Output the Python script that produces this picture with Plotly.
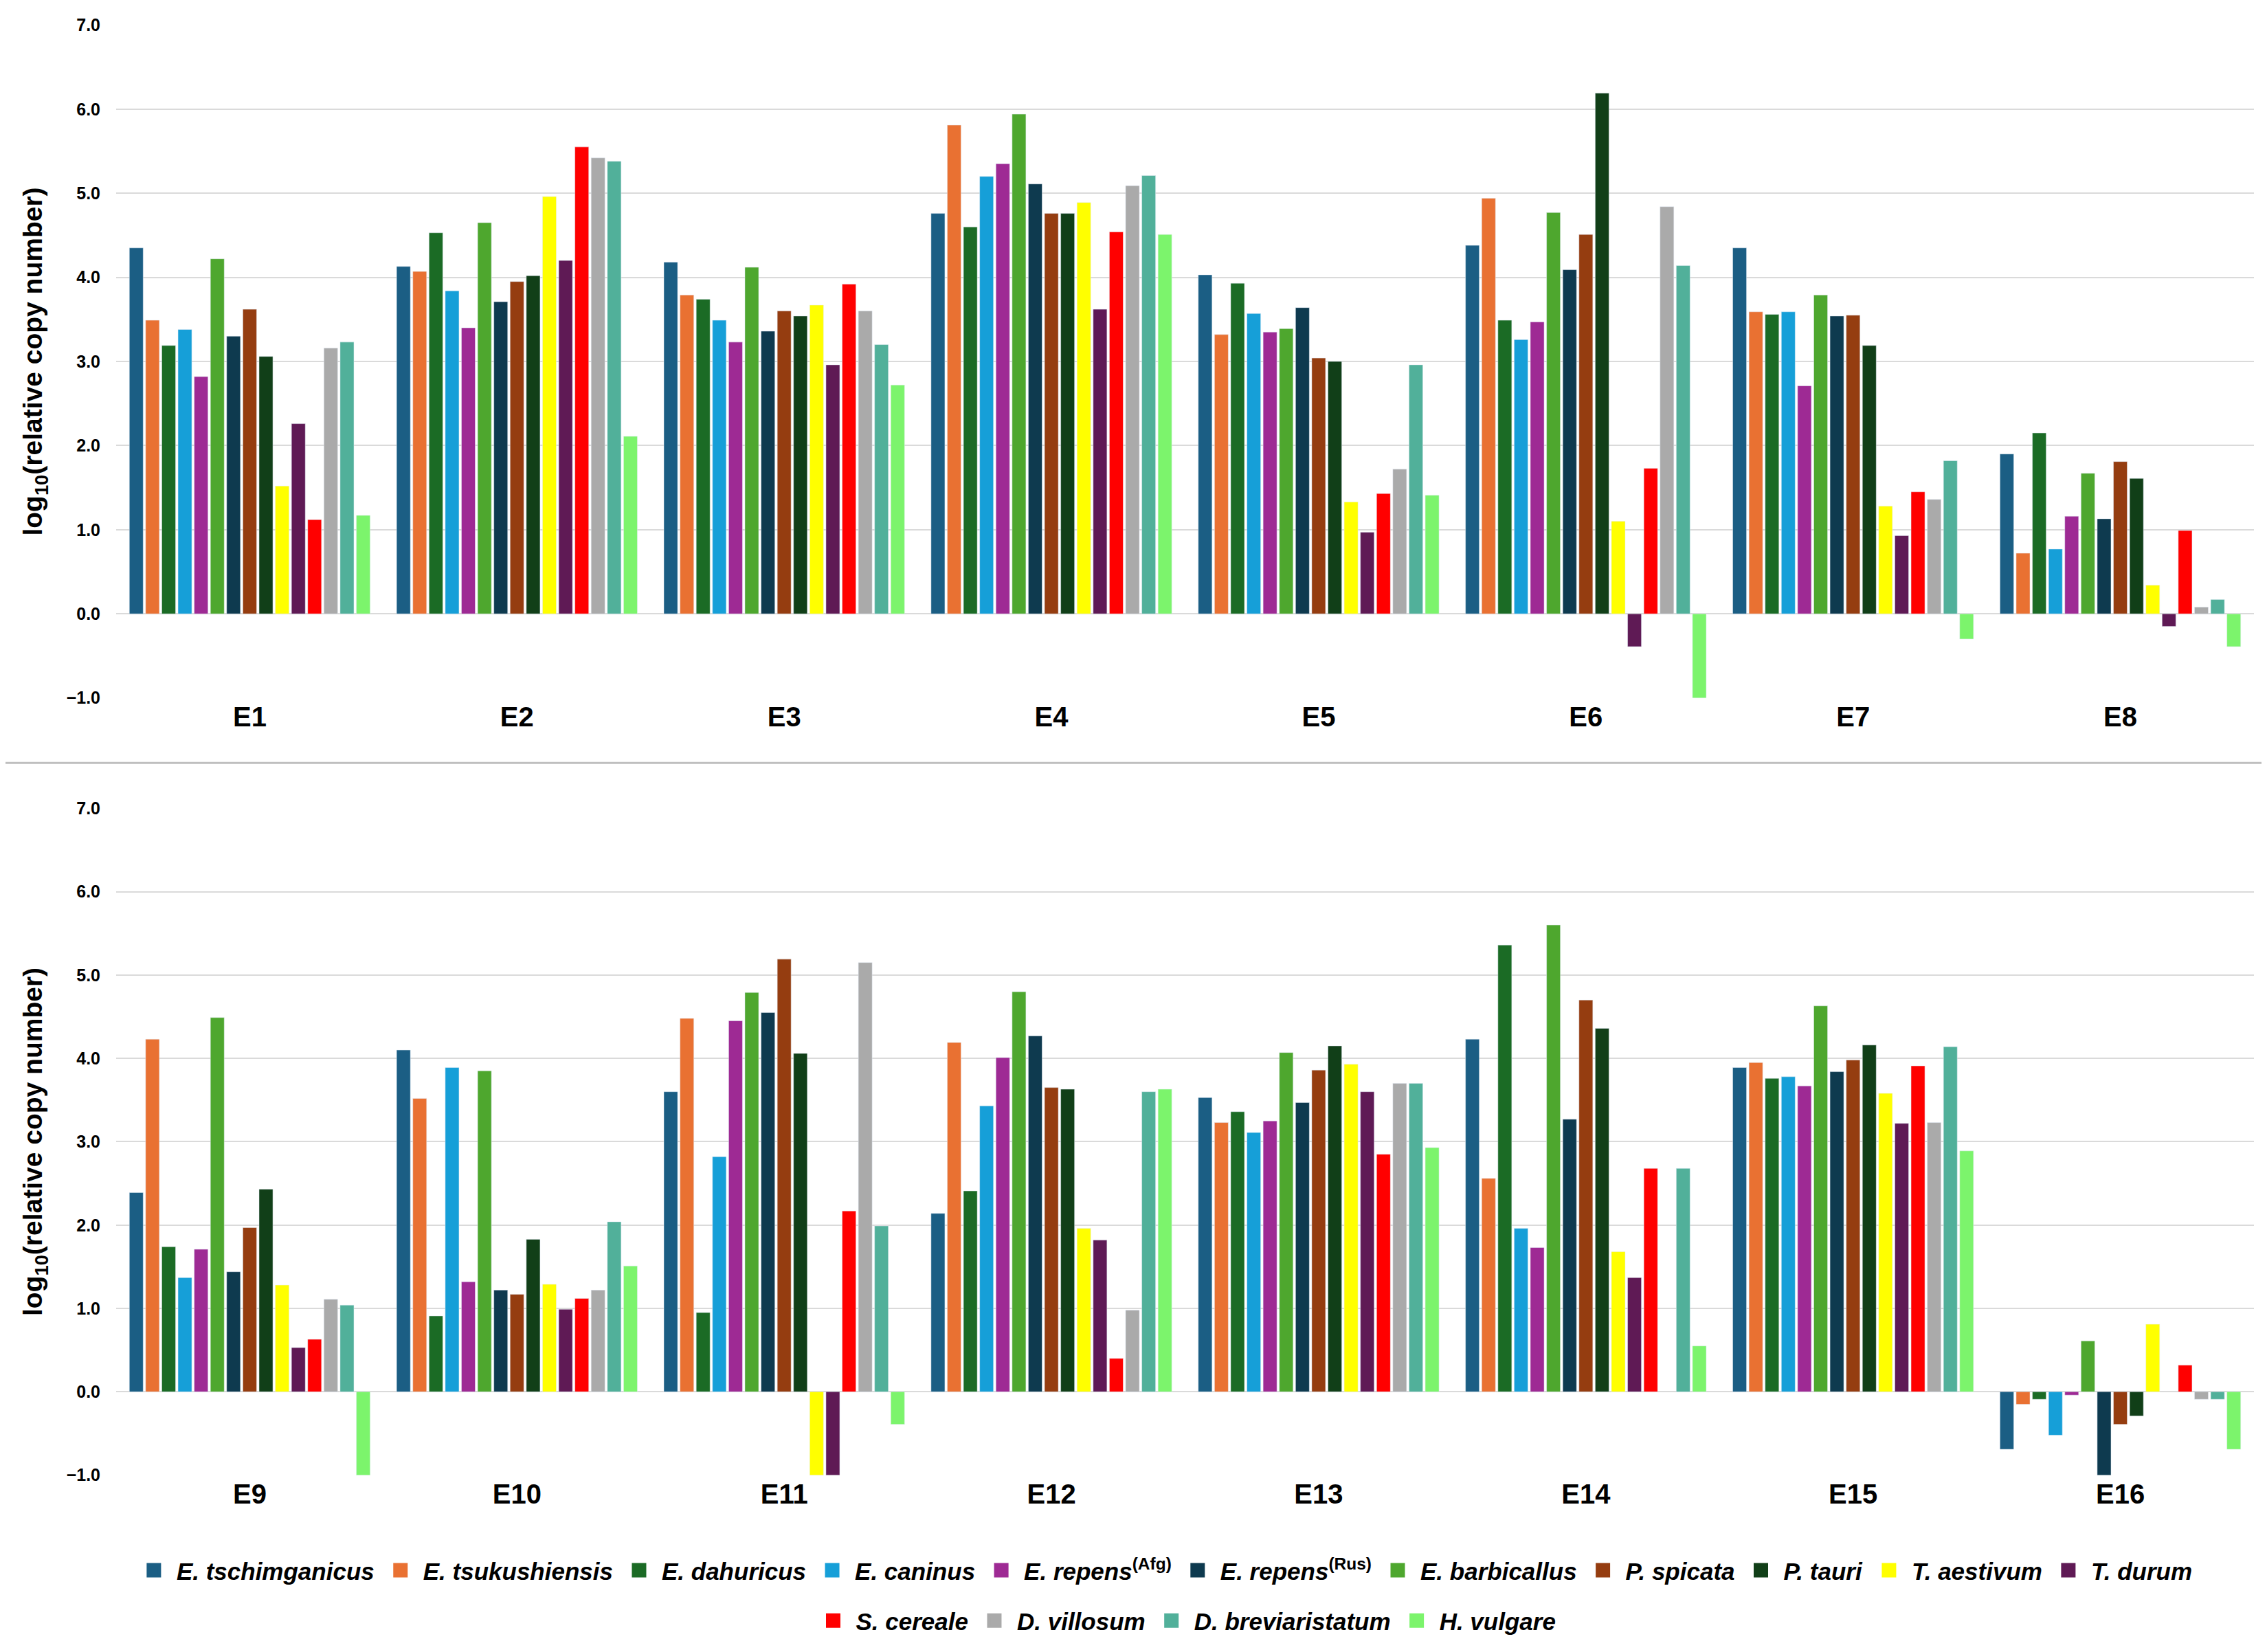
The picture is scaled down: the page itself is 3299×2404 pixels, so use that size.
import plotly.graph_objects as go
from plotly.subplots import make_subplots

# categories (two panels)
groups_top = ["E1", "E2", "E3", "E4", "E5", "E6", "E7", "E8"]
groups_bottom = ["E9", "E10", "E11", "E12", "E13", "E14", "E15", "E16"]

# log10(relative copy number), one value per group E1..E16
tschimganicus = [4.35, 4.13, 4.18, 4.76, 4.03, 4.38, 4.35, 1.90, 2.39, 4.10, 3.60, 2.14, 3.53, 4.23, 3.89, -0.69]
tsukushiensis = [3.49, 4.07, 3.79, 5.81, 3.32, 4.94, 3.59, 0.72, 4.23, 3.52, 4.48, 4.19, 3.23, 2.56, 3.95, -0.15]
dahuricus = [3.19, 4.53, 3.74, 4.60, 3.93, 3.49, 3.56, 2.15, 1.74, 0.91, 0.95, 2.41, 3.36, 5.36, 3.76, -0.09]
caninus = [3.38, 3.84, 3.49, 5.20, 3.57, 3.26, 3.59, 0.77, 1.37, 3.89, 2.82, 3.43, 3.11, 1.96, 3.78, -0.52]
repens_afg = [2.82, 3.40, 3.23, 5.35, 3.35, 3.47, 2.71, 1.16, 1.71, 1.32, 4.45, 4.01, 3.25, 1.73, 3.67, -0.04]
barbicallus = [4.22, 4.65, 4.12, 5.94, 3.39, 4.77, 3.79, 1.67, 4.49, 3.85, 4.79, 4.80, 4.07, 5.60, 4.63, 0.61]
repens_rus = [3.30, 3.71, 3.36, 5.11, 3.64, 4.09, 3.54, 1.13, 1.44, 1.22, 4.55, 4.27, 3.47, 3.27, 3.84, -1.00]
spicata = [3.62, 3.95, 3.60, 4.76, 3.04, 4.51, 3.55, 1.81, 1.97, 1.17, 5.19, 3.65, 3.86, 4.70, 3.98, -0.39]
tauri = [3.06, 4.02, 3.54, 4.76, 3.00, 6.19, 3.19, 1.61, 2.43, 1.83, 4.06, 3.63, 4.15, 4.36, 4.16, -0.29]
aestivum = [1.52, 4.96, 3.67, 4.89, 1.33, 1.10, 1.28, 0.34, 1.28, 1.29, -1.00, 1.96, 3.93, 1.68, 3.58, 0.81]
durum = [2.26, 4.20, 2.96, 3.62, 0.97, -0.39, 0.93, -0.15, 0.53, 0.99, -1.00, 1.82, 3.60, 1.37, 3.22, None]
cereale = [1.12, 5.55, 3.92, 4.54, 1.43, 1.73, 1.45, 0.99, 0.63, 1.12, 2.17, 0.40, 2.85, 2.68, 3.91, 0.32]
villosum = [3.16, 5.42, 3.60, 5.09, 1.72, 4.84, 1.36, 0.08, 1.11, 1.22, 5.15, 0.98, 3.70, None, 3.23, -0.09]
breviaristatum = [3.23, 5.38, 3.20, 5.21, 2.96, 4.14, 1.82, 0.17, 1.04, 2.04, 1.99, 3.60, 3.70, 2.68, 4.14, -0.09]
vulgare = [1.17, 2.11, 2.72, 4.51, 1.41, -1.00, -0.30, -0.39, -1.00, 1.51, -0.39, 3.63, 2.93, 0.55, 2.89, -0.69]

# (label, values, colour, legend position) in the order the bars are drawn
series = [
    ("<i>E. tschimganicus</i>", tschimganicus, "#1B5E84", 1),
    ("<i>E. tsukushiensis</i>", tsukushiensis, "#E97132", 2),
    ("<i>E. dahuricus</i>", dahuricus, "#1B6B25", 3),
    ("<i>E. caninus</i>", caninus, "#169FD8", 4),
    ("<i>E. repens</i><sup>(Afg)</sup>", repens_afg, "#9E2A94", 5),
    ("<i>E. barbicallus</i>", barbicallus, "#4EA72E", 7),
    ("<i>E. repens</i><sup>(Rus)</sup>", repens_rus, "#0E3A4F", 6),
    ("<i>P. spicata</i>", spicata, "#953D10", 8),
    ("<i>P. tauri</i>", tauri, "#113F18", 9),
    ("<i>T. aestivum</i>", aestivum, "#FFFF00", 10),
    ("<i>T. durum</i>", durum, "#5F1A55", 11),
    ("<i>S. cereale</i>", cereale, "#FF0000", 12),
    ("<i>D. villosum</i>", villosum, "#AAAAAA", 13),
    ("<i>D. breviaristatum</i>", breviaristatum, "#51B09A", 14),
    ("<i>H. vulgare</i>", vulgare, "#7CF46C", 15),
]

FONT = "Liberation Sans, Arial, sans-serif"

fig = make_subplots(rows=2, cols=1, vertical_spacing=0.08)

for name, vals, color, rank in series:
    fig.add_trace(go.Bar(x=groups_top, y=vals[:8], name=name, marker_color=color,
                         legendgroup=name, showlegend=False),
                  row=1, col=1)
    fig.add_trace(go.Bar(x=groups_bottom, y=vals[8:], name=name, marker_color=color,
                         legendgroup=name, showlegend=False),
                  row=2, col=1)
    # legend-only entry so the swatch can be bigger than plotly's bar icon
    fig.add_trace(go.Scatter(x=[None], y=[None], mode="markers", name=name,
                             marker=dict(symbol="square", size=16, color=color,
                                         line=dict(color=color, width=5)),
                             legendgroup=name, legendrank=rank,
                             legend="legend" if rank <= 11 else "legend2",
                             hoverinfo="skip"),
                  row=1, col=1)

yaxis_style = dict(range=[-1.003, 7.003], dtick=1, tickformat=".1f",
                   showgrid=True, gridcolor="#DADADA", gridwidth=2, zeroline=False,
                   ticklabelstandoff=22,
                   tickfont=dict(family=FONT, size=25, color="black", weight="bold"),
                   title=dict(text="log<sub>10</sub>(relative copy number)", standoff=22,
                              font=dict(family=FONT, size=39, color="black", weight="bold")))
xaxis_style = dict(showgrid=False, showline=False, ticks="", ticklabelstandoff=0,
                   tickfont=dict(family=FONT, size=40, color="black", weight="bold"))

legend_font = dict(family=FONT, size=35, color="black", weight="bold")

fig.update_yaxes(**yaxis_style)
fig.update_xaxes(**xaxis_style)
fig.update_layout(
    width=3299, height=2404,
    margin=dict(l=161, r=27, t=28, b=258),
    paper_bgcolor="white", plot_bgcolor="white",
    barmode="group", bargap=0.09, bargroupgap=0.15,
    yaxis=dict(domain=[0.5373, 1.0]),
    yaxis2=dict(domain=[0.0033, 0.4618]),
    legend=dict(orientation="h", x=0.49, xanchor="center", y=-0.062, yanchor="middle",
                font=legend_font, itemwidth=56, traceorder="normal"),
    legend2=dict(orientation="h", x=0.50, xanchor="center", y=-0.0966, yanchor="middle",
                 font=legend_font, itemwidth=56, traceorder="normal"),
    font=dict(family=FONT, color="black"),
)

# separator between the two panels
fig.add_shape(type="line", xref="paper", yref="paper",
              x0=-161 / 3111, x1=1 + 27 / 3111, y0=0.4928, y1=0.4928,
              line=dict(color="#BFBFBF", width=3))

fig.write_html("out.html")
